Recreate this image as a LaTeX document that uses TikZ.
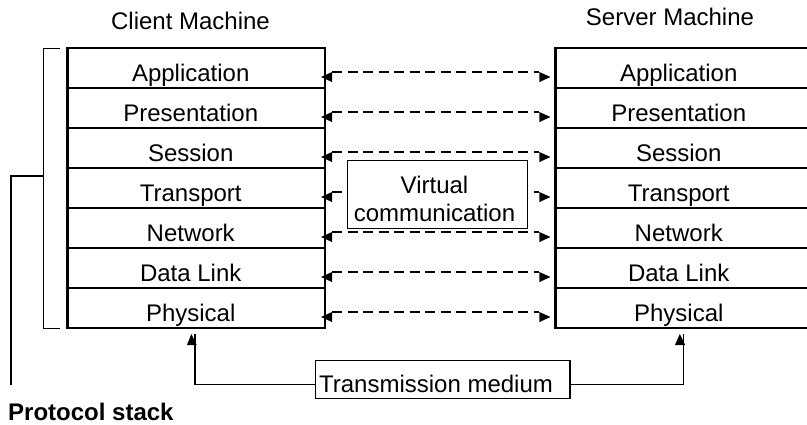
\documentclass[tikz,border=0pt]{standalone}
\usepackage{fontspec}
\setmainfont{Liberation Sans}
\usetikzlibrary{calc}
\tikzset{
  base font/.style={font=\fontsize{24}{27}\selectfont},
  layer/.style={draw=black,line width=2.1pt,minimum width=257.5pt,minimum height=40pt,inner sep=0pt,
    text height=26pt,text depth=0pt,base font,execute at end node={\hspace{11pt}}},
  label text/.style={inner sep=0pt,anchor=base,base font},
  framed/.style={draw=black,fill=white,line width=1.5pt,inner sep=0pt,base font,align=center},
  wire/.style={draw=black,line width=1.6pt},
  peer/.style={draw=black,line width=1.5pt,dash pattern=on 10pt off 5.5pt},
  head/.style={fill=black,draw=none}
}
\begin{document}
\begin{tikzpicture}[x=1pt,y=-1pt]
\useasboundingbox (0,0) rectangle (807,424);
\clip (0,0) rectangle (807,424);
\fill[white] (0,0) rectangle (807,424);
\node[label text] (client) at (190.5,29) {Client Machine};
\node[label text] (server) at (670,25) {Server Machine};
\foreach \n/\t [count=\i from 0] in {A/Application,P/Presentation,S/Session,T/Transport,N/Network,D/Data Link,H/Physical}{
  \node[layer] (c\n) at (196.25,68.4+40*\i) {\t};
  \node[layer] (s\n) at (684.25,68.4+40*\i) {\t};
}
\foreach \n in {A,P,S,T,N,D,H}{
  \coordinate (l\n) at ($(c\n.east)+(6,3.6)$);
  \coordinate (r\n) at ($(s\n.west)+(-15,3.6)$);
  \draw[peer] (l\n) -- (r\n);
  \fill[head] ($(l\n)+(-11,5)$) -- ($(l\n)+(0,0)$) -- ($(l\n)+(0,10)$) -- cycle;
  \fill[head] ($(r\n)+(11,5)$) -- ($(r\n)+(0,0)$) -- ($(r\n)+(0,10)$) -- cycle;
}
\node[framed,minimum width=180pt,minimum height=68pt] (virtual) at (437.5,194.5) {};
\node[label text] (v1) at (434.5,193) {Virtual};
\node[label text] (v2) at (434.5,221) {communication};
\node[framed,minimum width=254.5pt,minimum height=38pt,text height=26pt,text depth=0pt] (medium) at (442.5,379.7) {Transmission medium\hspace{13pt}};
\coordinate (mL) at (195,334);
\coordinate (mR) at (683.5,334);
\draw[wire] (medium.west |- 0,384.6) -| (mL);
\draw[wire] (medium.east |- 0,384.6) -| (mR);
\fill[head] ($(mL)+(-3.7,0)$) -- ($(mL)+(1.7,11)$) -- ($(mL)+(-8,11)$) -- cycle;
\fill[head] ($(mR)+(-3.7,0)$) -- ($(mR)+(1.7,11)$) -- ($(mR)+(-8.5,11)$) -- cycle;
\coordinate (bT) at (60,48.4);
\coordinate (bB) at (60,328.4);
\coordinate (bM) at (43.5,176);
\coordinate (bE) at (11,385);
\draw[wire] (bT) -- (43.5,48.4) -- (43.5,328.4) -- (bB);
\draw[wire] (bM) -| (bE);
\node[label text,anchor=base west,font=\fontsize{24}{27}\selectfont\bfseries] (stack) at (8,420) {Protocol stack};
\end{tikzpicture}
\end{document}
